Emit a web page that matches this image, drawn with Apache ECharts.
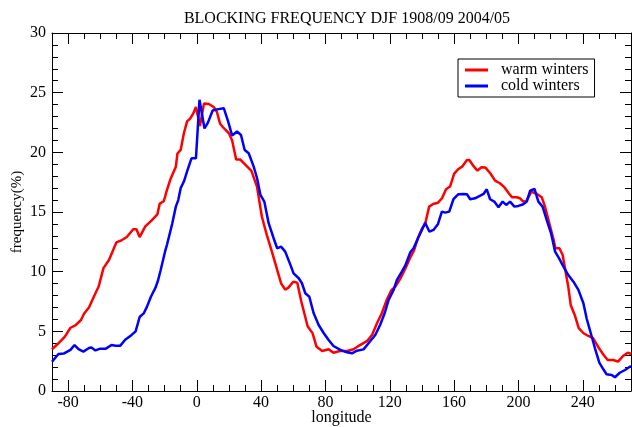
<!DOCTYPE html>
<html><head><meta charset="utf-8">
<script src="https://cdn.jsdelivr.net/npm/echarts@6/dist/echarts.min.js"></script>
<style>html,body{margin:0;padding:0;background:#fff}#c{width:632px;height:427px}</style>
</head><body><div id="c"></div>
<script>
const titleText = 'BLOCKING FREQUENCY DJF 1908/09 2004/05';
const seriesNames = ['warm winters', 'cold winters'];
const xMajorTicks = [-80, -40, 0, 40, 80, 120, 160, 200, 240];

const warmLon = [-90,-86,-82,-78.5,-75.5,-72,-70,-67,-64,-61,-58,-54.5,-50,-46.5,-43.5,-39.5,-37.5,-35.5,-32,-28,-24.5,-23,-20.5,-18.5,-16.5,-13,-12,-10,-8,-6,-4,-2,-0.5,2,4.5,7.5,10.5,12.5,14.5,17,20,22,24.5,27,30,34,37.5,40.5,43.5,47,50,52.5,55,57,60,62.5,65,69,72,74.5,78,82,85,89,93.5,97.5,101.5,106,109,112,115,118,121,123.5,126.5,129.5,132.5,135,137.5,140,142,144.5,147,150,152.5,155,157.5,160,162.5,165,168,169.5,172,174.5,177,179.5,182.5,185.5,188.5,191.5,194,196,199,201,203,205,208,211.5,214.5,216.5,219.5,222,223,225.5,227.5,229.5,231,232.5,235,237.5,240.5,243.5,246.5,249.5,253,255.5,259,262,265,268,270];
const warmVal = [3.5,4.0,4.55,5.3,5.5,5.95,6.5,7.0,7.9,8.75,10.3,11.0,12.45,12.65,12.9,13.55,13.55,12.9,13.8,14.3,14.8,15.7,15.9,16.85,17.7,18.8,19.9,20.2,21.6,22.6,22.85,23.3,23.8,22.2,24.1,24.05,23.8,23.4,22.4,22.0,21.6,21.0,19.4,19.4,19.0,18.45,17.1,14.6,13.1,11.55,10.15,9.0,8.5,8.66,9.15,9.08,7.5,5.4,4.85,3.7,3.35,3.5,3.2,3.35,3.35,3.5,3.85,4.2,4.7,5.65,6.5,7.6,8.45,8.75,9.4,10.2,11.1,11.75,12.8,13.6,14.0,15.45,15.67,15.78,16.15,16.9,17.13,18.19,18.58,18.8,19.36,19.36,18.86,18.47,18.75,18.72,18.25,17.63,17.41,17.04,16.57,16.24,16.24,16.15,15.87,15.93,16.71,16.51,16.24,15.45,13.91,12.6,11.96,11.96,11.4,9.86,8.74,7.21,6.37,5.26,4.84,4.61,4.42,3.71,3.02,2.6,2.6,2.46,2.93,3.21,3.1];

const coldLon = [-90,-86,-82.5,-78.5,-76,-73.5,-70.5,-67,-65.5,-63,-60,-56.5,-53,-50.5,-47.5,-44.5,-40.5,-38,-35.5,-33,-31,-28.5,-25.5,-24,-22.5,-19.5,-18.5,-15.3,-13,-11.5,-10,-8,-6,-3.3,-0.5,1.7,4.8,6.8,9.9,12.6,16.8,19.5,22,25,27.5,29.8,32.3,35.4,37.5,39.6,42,44.7,47.8,50,52.4,55,58,60.2,63.4,65.4,67.5,70,72.7,75.8,79,82,85,89.3,93.4,96.5,99.6,103.7,106.8,111,114,116.8,119.3,122.4,124.4,127.5,129.6,132.7,134.8,137.9,140,142,144.7,147.2,150,152.4,154.5,157,159.6,162.7,165.8,168,170,173,176,178.3,180.3,182.4,185,187.6,190.2,192.4,194.8,197.5,200,203,205.2,207.3,210,212.4,215,217.6,220.3,222.8,225.3,228,231,234.2,237.3,240.4,242.4,245,247.6,250.3,252.8,254.8,258,260,263,266.3,268.3,270];
const coldVal = [2.45,3.1,3.15,3.45,3.85,3.5,3.3,3.6,3.65,3.4,3.55,3.55,3.85,3.8,3.8,4.3,4.7,5.0,6.2,6.5,7.05,7.9,8.7,9.3,10.1,11.8,12.25,14.0,15.45,16.0,17.0,17.55,18.4,19.5,19.5,24.4,22.0,22.45,23.5,23.6,23.7,22.6,21.4,21.75,21.45,20.2,19.92,18.8,17.83,16.43,15.87,14.06,12.8,11.96,12.1,11.68,10.65,9.86,9.45,9.03,8.19,7.9,6.51,5.53,4.84,4.27,3.77,3.44,3.24,3.16,3.38,3.49,4.0,4.69,5.53,6.51,7.63,8.47,9.3,10.0,10.5,11.6,11.96,12.9,13.5,14.1,13.35,13.5,14.0,15.03,14.95,15.03,16.07,16.49,16.51,16.49,16.07,16.15,16.35,16.51,16.9,16.07,15.87,15.4,15.87,15.59,15.87,15.45,15.51,15.65,15.87,16.79,16.93,15.87,15.45,14.33,13.22,11.68,11.12,10.42,9.72,9.16,8.47,7.35,6.09,4.84,3.58,2.37,1.82,1.4,1.34,1.15,1.53,1.76,1.95,2.1];

const pair = (xs, ys) => xs.map((x, i) => [x, ys[i]]);
const FONT = 'Liberation Serif';
const chart = echarts.init(document.getElementById('c'), null, {renderer: 'canvas'});
const axLine = {show: true, onZero: false, lineStyle: {color: '#000', width: 1}};
const tickStyle = {color: '#000', width: 1};
function xAx(pos, major, labels) {
  const a = {
    type: 'value', position: pos, min: -90, max: 270, gridIndex: 0,
    splitLine: {show: false},
    axisLine: major ? axLine : {show: false, onZero: false},
    axisLabel: {show: false}
  };
  if (major) {
    a.axisTick = {show: true, inside: true, length: 11, lineStyle: tickStyle, customValues: xMajorTicks};
    if (labels) {
      a.axisLabel = {show: true, customValues: xMajorTicks, color: '#000', fontFamily: FONT, fontSize: 16, margin: 4};
      a.name = 'longitude'; a.nameLocation = 'middle'; a.nameGap = 19; a.nameMoveOverlap = false;
      a.nameTextStyle = {color: '#000', fontFamily: FONT, fontSize: 16};
    }
  } else {
    a.interval = 10;
    a.axisTick = {show: true, inside: true, length: 6, lineStyle: tickStyle};
  }
  return a;
}
function yAx(pos, labels) {
  const a = {
    type: 'value', position: pos, min: 0, max: 30, interval: 5, gridIndex: 0,
    splitLine: {show: false},
    axisLine: axLine,
    axisTick: {show: true, inside: true, length: 11, lineStyle: tickStyle},
    minorTick: {show: true, splitNumber: 5, length: 6, lineStyle: tickStyle},
    axisLabel: {show: labels, color: '#000', fontFamily: FONT, fontSize: 16, margin: 6}
  };
  if (labels) {
    a.name = 'frequency(%)'; a.nameLocation = 'middle'; a.nameGap = 27; a.nameMoveOverlap = false;
    a.nameTextStyle = {color: '#000', fontFamily: FONT, fontSize: 15};
  }
  return a;
}
chart.setOption({
  animation: false,
  backgroundColor: '#fff',
  title: {text: titleText, left: 342, textAlign: 'center', top: 6,
    textStyle: {fontFamily: FONT, fontSize: 16, fontWeight: 'normal', color: '#000'}},
  grid: {left: 52, right: 1, top: 33, bottom: 36, containLabel: false, outerBoundsMode: 'none'},
  legend: {
    orient: 'vertical', left: 458, top: 59, data: seriesNames,
    icon: 'rect', itemWidth: 23, itemHeight: 3,
    borderColor: '#000', borderWidth: 1, padding: [3, 6, 3, 7], itemGap: 0,
    textStyle: {fontFamily: FONT, fontSize: 16, color: '#000', padding: [0, 0, 0, 8], lineHeight: 15}
  },
  xAxis: [xAx('bottom', true, true), xAx('bottom', false), xAx('top', true, false), xAx('top', false)],
  yAxis: [yAx('left', true), yAx('right', false)],
  series: [
    {name: seriesNames[0], type: 'line', data: pair(warmLon, warmVal), showSymbol: false, symbol: 'none',
      lineStyle: {color: '#ff0000', width: 2.5}, itemStyle: {color: '#ff0000'}, xAxisIndex: 0, yAxisIndex: 0},
    {name: seriesNames[1], type: 'line', data: pair(coldLon, coldVal), showSymbol: false, symbol: 'none',
      lineStyle: {color: '#0000ff', width: 2.5}, itemStyle: {color: '#0000ff'}, xAxisIndex: 0, yAxisIndex: 0}
  ]
});
</script></body></html>
